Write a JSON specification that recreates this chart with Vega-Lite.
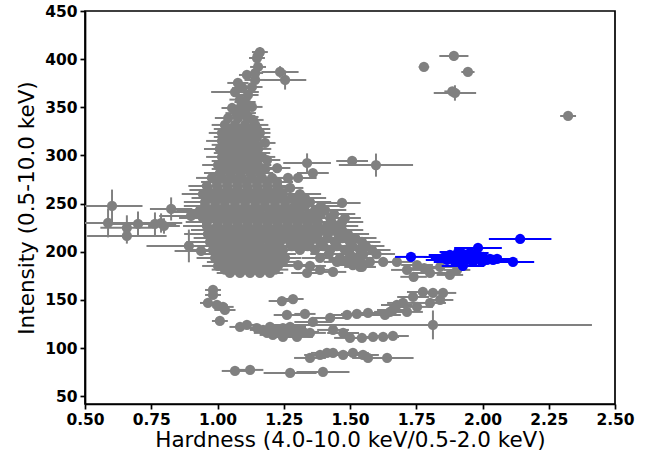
{
"$schema":"https://vega.github.io/schema/vega-lite/v6.json",
"autosize":{"type":"none"},
"padding":{"left":85,"top":11,"right":47,"bottom":50},
"width":530,"height":393,
"background":"white",
"config":{"view":{"stroke":"black","strokeWidth":1.7},
"axis":{"domainColor":"black","domainWidth":1.7,"tickColor":"black","tickWidth":1.7,"tickSize":5,"labelFont":"DejaVu Sans","labelFontWeight":"bold","labelFontSize":15.5,"labelColor":"black","labelFlush":false,"titleFont":"DejaVu Sans","titleFontWeight":"normal","titleFontSize":21.5,"titleColor":"black","grid":false,"labelPadding":3}},
"datasets":{
"gray":[
{"x":1.779,"y":391.9,"xe":0.02,"ye":3},{"x":1.892,"y":403.3,"xe":0.055,"ye":5},{"x":1.945,"y":386.7,"xe":0.025,"ye":3},{"x":1.896,"y":364.9,"xe":0.08,"ye":8},{"x":1.886,"y":366.5,"xe":0.03,"ye":3},{"x":2.323,"y":341.0,"xe":0.03,"ye":3},
{"x":0.602,"y":247.6,"xe":0.115,"ye":17},{"x":0.587,"y":230.0,"xe":0.2,"ye":15},{"x":0.658,"y":224.9,"xe":0.1,"ye":13},{"x":0.658,"y":216.5,"xe":0.15,"ye":8},{"x":0.700,"y":228.9,"xe":0.1,"ye":13},{"x":0.764,"y":228.9,"xe":0.08,"ye":12},{"x":0.787,"y":229.9,"xe":0.08,"ye":10},{"x":0.798,"y":226.8,"xe":0.06,"ye":8},{"x":0.825,"y":244.5,"xe":0.08,"ye":12},{"x":0.900,"y":237.2,"xe":0.12,"ye":5},{"x":0.892,"y":206.1,"xe":0.16,"ye":17},{"x":0.938,"y":200.9,"xe":0.1,"ye":5},{"x":0.964,"y":241.4,"xe":0.15,"ye":5},
{"x":1.160,"y":407.4,"xe":0.03,"ye":5},{"x":1.149,"y":401.2,"xe":0.03,"ye":4},{"x":1.153,"y":404.3,"xe":0.02,"ye":3},{"x":1.236,"y":386.7,"xe":0.07,"ye":6},{"x":1.255,"y":378.4,"xe":0.08,"ye":10},{"x":1.142,"y":385.6,"xe":0.03,"ye":4},{"x":1.153,"y":391.9,"xe":0.03,"ye":4},{"x":1.142,"y":378.4,"xe":0.04,"ye":4},{"x":1.111,"y":383.6,"xe":0.03,"ye":4},{"x":1.130,"y":371.1,"xe":0.04,"ye":4},{"x":1.077,"y":375.3,"xe":0.04,"ye":4},{"x":1.066,"y":365.9,"xe":0.09,"ye":4},{"x":1.115,"y":362.8,"xe":0.04,"ye":4},{"x":1.104,"y":355.5,"xe":0.04,"ye":4},{"x":1.130,"y":350.4,"xe":0.04,"ye":4},{"x":1.055,"y":349.3,"xe":0.04,"ye":4},{"x":1.085,"y":349.3,"xe":0.04,"ye":4},{"x":1.040,"y":338.9,"xe":0.05,"ye":4},{"x":1.077,"y":338.9,"xe":0.04,"ye":4},{"x":1.115,"y":340.0,"xe":0.04,"ye":4},{"x":1.134,"y":336.9,"xe":0.04,"ye":4},
{"x":1.095,"y":370.0,"xe":0.04,"ye":4},{"x":1.085,"y":358.0,"xe":0.04,"ye":4},{"x":1.070,"y":344.0,"xe":0.04,"ye":4},{"x":1.105,"y":344.0,"xe":0.04,"ye":4},
{"x":1.028,"y":331.7,"xe":0.05,"ye":4},{"x":1.066,"y":331.7,"xe":0.05,"ye":4},{"x":1.104,"y":331.7,"xe":0.05,"ye":4},{"x":1.142,"y":331.7,"xe":0.05,"ye":4},
{"x":1.036,"y":327.5,"xe":0.05,"ye":4},{"x":1.074,"y":327.5,"xe":0.05,"ye":4},{"x":1.111,"y":327.5,"xe":0.05,"ye":4},{"x":1.149,"y":327.5,"xe":0.05,"ye":4},
{"x":1.017,"y":323.4,"xe":0.05,"ye":4},{"x":1.055,"y":323.4,"xe":0.05,"ye":4},{"x":1.092,"y":323.4,"xe":0.05,"ye":4},{"x":1.130,"y":323.4,"xe":0.05,"ye":4},{"x":1.160,"y":323.4,"xe":0.04,"ye":4},
{"x":1.036,"y":319.2,"xe":0.05,"ye":4},{"x":1.074,"y":319.2,"xe":0.05,"ye":4},{"x":1.111,"y":319.2,"xe":0.05,"ye":4},{"x":1.149,"y":319.2,"xe":0.05,"ye":4},
{"x":1.017,"y":315.1,"xe":0.06,"ye":4},{"x":1.055,"y":315.1,"xe":0.05,"ye":4},{"x":1.092,"y":315.1,"xe":0.05,"ye":4},{"x":1.130,"y":315.1,"xe":0.05,"ye":4},{"x":1.179,"y":313.0,"xe":0.04,"ye":4},
{"x":1.028,"y":311.0,"xe":0.05,"ye":4},{"x":1.066,"y":311.0,"xe":0.05,"ye":4},{"x":1.104,"y":311.0,"xe":0.05,"ye":4},{"x":1.142,"y":311.0,"xe":0.05,"ye":4},
{"x":1.009,"y":306.8,"xe":0.06,"ye":4},{"x":1.047,"y":306.8,"xe":0.05,"ye":4},{"x":1.085,"y":306.8,"xe":0.05,"ye":4},{"x":1.123,"y":306.8,"xe":0.05,"ye":4},{"x":1.153,"y":306.8,"xe":0.05,"ye":4},
{"x":1.036,"y":302.6,"xe":0.05,"ye":4},{"x":1.074,"y":302.6,"xe":0.05,"ye":4},{"x":1.111,"y":302.6,"xe":0.05,"ye":4},{"x":1.149,"y":302.6,"xe":0.05,"ye":4},
{"x":1.017,"y":298.5,"xe":0.06,"ye":4},{"x":1.055,"y":298.5,"xe":0.05,"ye":4},{"x":1.092,"y":298.5,"xe":0.05,"ye":4},{"x":1.130,"y":298.5,"xe":0.05,"ye":4},{"x":1.168,"y":298.5,"xe":0.05,"ye":4},{"x":1.187,"y":295.3,"xe":0.05,"ye":4},
{"x":1.028,"y":294.3,"xe":0.05,"ye":4},{"x":1.066,"y":294.3,"xe":0.05,"ye":4},{"x":1.104,"y":294.3,"xe":0.05,"ye":4},{"x":1.142,"y":294.3,"xe":0.05,"ye":4},
{"x":1.002,"y":290.1,"xe":0.06,"ye":4},{"x":1.040,"y":290.1,"xe":0.05,"ye":4},{"x":1.077,"y":290.1,"xe":0.05,"ye":4},{"x":1.115,"y":290.1,"xe":0.05,"ye":4},{"x":1.153,"y":290.1,"xe":0.05,"ye":4},{"x":1.225,"y":287.0,"xe":0.05,"ye":4},
{"x":1.028,"y":286.0,"xe":0.05,"ye":4},{"x":1.066,"y":286.0,"xe":0.05,"ye":4},{"x":1.104,"y":286.0,"xe":0.05,"ye":4},{"x":1.142,"y":286.0,"xe":0.05,"ye":4},{"x":1.180,"y":286.0,"xe":0.05,"ye":4},
{"x":1.009,"y":281.8,"xe":0.06,"ye":4},{"x":1.047,"y":281.8,"xe":0.05,"ye":4},{"x":1.085,"y":281.8,"xe":0.05,"ye":4},{"x":1.123,"y":281.8,"xe":0.05,"ye":4},{"x":1.160,"y":281.8,"xe":0.05,"ye":4},
{"x":1.338,"y":292.2,"xe":0.09,"ye":10},{"x":1.360,"y":281.8,"xe":0.06,"ye":4},{"x":1.508,"y":294.3,"xe":0.06,"ye":3},{"x":1.598,"y":290.0,"xe":0.14,"ye":12},{"x":1.274,"y":266.3,"xe":0.05,"ye":10},{"x":1.470,"y":250.7,"xe":0.07,"ye":4},{"x":1.481,"y":235.1,"xe":0.06,"ye":4},
{"x":0.979,"y":276.7,"xe":0.06,"ye":4},{"x":1.017,"y":276.7,"xe":0.06,"ye":4},{"x":1.055,"y":276.7,"xe":0.06,"ye":4},{"x":1.092,"y":276.7,"xe":0.06,"ye":4},{"x":1.130,"y":276.7,"xe":0.06,"ye":4},{"x":1.168,"y":276.7,"xe":0.06,"ye":4},{"x":1.206,"y":276.7,"xe":0.06,"ye":4},{"x":1.266,"y":276.7,"xe":0.07,"ye":4},{"x":1.304,"y":276.7,"xe":0.07,"ye":4},
{"x":0.998,"y":272.5,"xe":0.06,"ye":4},{"x":1.036,"y":272.5,"xe":0.06,"ye":4},{"x":1.074,"y":272.5,"xe":0.06,"ye":4},{"x":1.111,"y":272.5,"xe":0.06,"ye":4},{"x":1.149,"y":272.5,"xe":0.06,"ye":4},{"x":1.187,"y":272.5,"xe":0.06,"ye":4},{"x":1.225,"y":272.5,"xe":0.06,"ye":4},
{"x":0.960,"y":268.4,"xe":0.07,"ye":4},{"x":0.998,"y":268.4,"xe":0.06,"ye":4},{"x":1.036,"y":268.4,"xe":0.06,"ye":4},{"x":1.074,"y":268.4,"xe":0.06,"ye":4},{"x":1.111,"y":268.4,"xe":0.06,"ye":4},{"x":1.149,"y":268.4,"xe":0.06,"ye":4},{"x":1.187,"y":268.4,"xe":0.06,"ye":4},{"x":1.225,"y":268.4,"xe":0.06,"ye":4},
{"x":0.964,"y":264.2,"xe":0.07,"ye":4},{"x":1.002,"y":264.2,"xe":0.06,"ye":4},{"x":1.040,"y":264.2,"xe":0.06,"ye":4},{"x":1.077,"y":264.2,"xe":0.06,"ye":4},{"x":1.115,"y":264.2,"xe":0.06,"ye":4},{"x":1.153,"y":264.2,"xe":0.06,"ye":4},{"x":1.191,"y":264.2,"xe":0.06,"ye":4},{"x":1.228,"y":264.2,"xe":0.06,"ye":4},
{"x":0.945,"y":260.0,"xe":0.08,"ye":4},{"x":0.983,"y":260.0,"xe":0.06,"ye":4},{"x":1.021,"y":260.0,"xe":0.06,"ye":4},{"x":1.058,"y":260.0,"xe":0.06,"ye":4},{"x":1.096,"y":260.0,"xe":0.06,"ye":4},{"x":1.134,"y":260.0,"xe":0.06,"ye":4},{"x":1.172,"y":260.0,"xe":0.06,"ye":4},{"x":1.209,"y":260.0,"xe":0.06,"ye":4},{"x":1.247,"y":260.0,"xe":0.06,"ye":4},{"x":1.311,"y":260.0,"xe":0.08,"ye":4},
{"x":0.972,"y":255.9,"xe":0.07,"ye":4},{"x":1.009,"y":255.9,"xe":0.06,"ye":4},{"x":1.047,"y":255.9,"xe":0.06,"ye":4},{"x":1.085,"y":255.9,"xe":0.06,"ye":4},{"x":1.123,"y":255.9,"xe":0.06,"ye":4},{"x":1.160,"y":255.9,"xe":0.06,"ye":4},{"x":1.198,"y":255.9,"xe":0.06,"ye":4},{"x":1.236,"y":255.9,"xe":0.06,"ye":4},{"x":1.280,"y":255.9,"xe":0.07,"ye":4},{"x":1.330,"y":255.9,"xe":0.08,"ye":4},
{"x":0.953,"y":251.7,"xe":0.08,"ye":4},{"x":0.991,"y":251.7,"xe":0.06,"ye":4},{"x":1.028,"y":251.7,"xe":0.06,"ye":4},{"x":1.066,"y":251.7,"xe":0.06,"ye":4},{"x":1.104,"y":251.7,"xe":0.06,"ye":4},{"x":1.142,"y":251.7,"xe":0.06,"ye":4},{"x":1.179,"y":251.7,"xe":0.06,"ye":4},{"x":1.217,"y":251.7,"xe":0.06,"ye":4},{"x":1.255,"y":251.7,"xe":0.07,"ye":4},{"x":1.304,"y":251.7,"xe":0.08,"ye":4},{"x":1.349,"y":251.7,"xe":0.08,"ye":4},
{"x":0.953,"y":247.5,"xe":0.08,"ye":4},{"x":0.991,"y":247.5,"xe":0.06,"ye":4},{"x":1.028,"y":247.5,"xe":0.06,"ye":4},{"x":1.066,"y":247.5,"xe":0.06,"ye":4},{"x":1.104,"y":247.5,"xe":0.06,"ye":4},{"x":1.142,"y":247.5,"xe":0.06,"ye":4},{"x":1.179,"y":247.5,"xe":0.06,"ye":4},{"x":1.217,"y":247.5,"xe":0.06,"ye":4},{"x":1.255,"y":247.5,"xe":0.07,"ye":4},{"x":1.290,"y":247.5,"xe":0.07,"ye":4},{"x":1.330,"y":247.5,"xe":0.08,"ye":4},{"x":1.390,"y":247.5,"xe":0.08,"ye":4},
{"x":0.934,"y":243.4,"xe":0.09,"ye":4},{"x":0.972,"y":243.4,"xe":0.07,"ye":4},{"x":1.009,"y":243.4,"xe":0.06,"ye":4},{"x":1.047,"y":243.4,"xe":0.06,"ye":4},{"x":1.085,"y":243.4,"xe":0.06,"ye":4},{"x":1.123,"y":243.4,"xe":0.06,"ye":4},{"x":1.160,"y":243.4,"xe":0.06,"ye":4},{"x":1.198,"y":243.4,"xe":0.06,"ye":4},{"x":1.236,"y":243.4,"xe":0.07,"ye":4},{"x":1.274,"y":243.4,"xe":0.07,"ye":4},{"x":1.311,"y":243.4,"xe":0.08,"ye":4},{"x":1.368,"y":243.4,"xe":0.08,"ye":4},{"x":1.406,"y":243.4,"xe":0.08,"ye":4},
{"x":0.964,"y":239.2,"xe":0.08,"ye":4},{"x":1.002,"y":239.2,"xe":0.06,"ye":4},{"x":1.040,"y":239.2,"xe":0.06,"ye":4},{"x":1.077,"y":239.2,"xe":0.06,"ye":4},{"x":1.115,"y":239.2,"xe":0.06,"ye":4},{"x":1.153,"y":239.2,"xe":0.06,"ye":4},{"x":1.191,"y":239.2,"xe":0.06,"ye":4},{"x":1.228,"y":239.2,"xe":0.07,"ye":4},{"x":1.266,"y":239.2,"xe":0.07,"ye":4},{"x":1.304,"y":239.2,"xe":0.08,"ye":4},{"x":1.342,"y":239.2,"xe":0.08,"ye":4},{"x":1.390,"y":239.2,"xe":0.08,"ye":4},{"x":1.440,"y":239.2,"xe":0.08,"ye":4},
{"x":0.945,"y":235.1,"xe":0.09,"ye":4},{"x":0.983,"y":235.1,"xe":0.07,"ye":4},{"x":1.021,"y":235.1,"xe":0.06,"ye":4},{"x":1.058,"y":235.1,"xe":0.06,"ye":4},{"x":1.096,"y":235.1,"xe":0.06,"ye":4},{"x":1.134,"y":235.1,"xe":0.06,"ye":4},{"x":1.172,"y":235.1,"xe":0.06,"ye":4},{"x":1.209,"y":235.1,"xe":0.06,"ye":4},{"x":1.247,"y":235.1,"xe":0.07,"ye":4},{"x":1.285,"y":235.1,"xe":0.07,"ye":4},{"x":1.323,"y":235.1,"xe":0.08,"ye":4},{"x":1.360,"y":235.1,"xe":0.08,"ye":4},{"x":1.425,"y":235.1,"xe":0.08,"ye":4},
{"x":0.960,"y":231.0,"xe":0.08,"ye":4},{"x":1.002,"y":231.0,"xe":0.06,"ye":4},{"x":1.040,"y":231.0,"xe":0.06,"ye":4},{"x":1.077,"y":231.0,"xe":0.06,"ye":4},{"x":1.115,"y":231.0,"xe":0.06,"ye":4},{"x":1.153,"y":231.0,"xe":0.06,"ye":4},{"x":1.191,"y":231.0,"xe":0.06,"ye":4},{"x":1.228,"y":231.0,"xe":0.07,"ye":4},{"x":1.266,"y":231.0,"xe":0.07,"ye":4},{"x":1.304,"y":231.0,"xe":0.08,"ye":4},{"x":1.342,"y":231.0,"xe":0.08,"ye":4},{"x":1.379,"y":231.0,"xe":0.08,"ye":4},{"x":1.430,"y":231.0,"xe":0.08,"ye":4},{"x":1.470,"y":231.0,"xe":0.08,"ye":4},
{"x":0.960,"y":226.8,"xe":0.09,"ye":4},{"x":0.998,"y":226.8,"xe":0.07,"ye":4},{"x":1.036,"y":226.8,"xe":0.06,"ye":4},{"x":1.074,"y":226.8,"xe":0.06,"ye":4},{"x":1.111,"y":226.8,"xe":0.06,"ye":4},{"x":1.149,"y":226.8,"xe":0.06,"ye":4},{"x":1.187,"y":226.8,"xe":0.06,"ye":4},{"x":1.225,"y":226.8,"xe":0.07,"ye":4},{"x":1.262,"y":226.8,"xe":0.07,"ye":4},{"x":1.300,"y":226.8,"xe":0.08,"ye":4},{"x":1.338,"y":226.8,"xe":0.08,"ye":4},{"x":1.375,"y":226.8,"xe":0.08,"ye":4},{"x":1.413,"y":226.8,"xe":0.08,"ye":4},{"x":1.451,"y":226.8,"xe":0.08,"ye":4},
{"x":0.980,"y":222.6,"xe":0.08,"ye":4},{"x":1.017,"y":222.6,"xe":0.06,"ye":4},{"x":1.055,"y":222.6,"xe":0.06,"ye":4},{"x":1.092,"y":222.6,"xe":0.06,"ye":4},{"x":1.130,"y":222.6,"xe":0.06,"ye":4},{"x":1.168,"y":222.6,"xe":0.06,"ye":4},{"x":1.206,"y":222.6,"xe":0.06,"ye":4},{"x":1.243,"y":222.6,"xe":0.07,"ye":4},{"x":1.281,"y":222.6,"xe":0.07,"ye":4},{"x":1.319,"y":222.6,"xe":0.08,"ye":4},{"x":1.357,"y":222.6,"xe":0.08,"ye":4},{"x":1.394,"y":222.6,"xe":0.08,"ye":4},{"x":1.432,"y":222.6,"xe":0.08,"ye":4},{"x":1.470,"y":222.6,"xe":0.08,"ye":4},
{"x":0.964,"y":218.5,"xe":0.09,"ye":4},{"x":1.002,"y":218.5,"xe":0.07,"ye":4},{"x":1.040,"y":218.5,"xe":0.06,"ye":4},{"x":1.077,"y":218.5,"xe":0.06,"ye":4},{"x":1.115,"y":218.5,"xe":0.06,"ye":4},{"x":1.153,"y":218.5,"xe":0.06,"ye":4},{"x":1.191,"y":218.5,"xe":0.06,"ye":4},{"x":1.228,"y":218.5,"xe":0.07,"ye":4},{"x":1.266,"y":218.5,"xe":0.07,"ye":4},{"x":1.304,"y":218.5,"xe":0.08,"ye":4},{"x":1.342,"y":218.5,"xe":0.08,"ye":4},{"x":1.379,"y":218.5,"xe":0.08,"ye":4},{"x":1.417,"y":218.5,"xe":0.08,"ye":4},{"x":1.455,"y":218.5,"xe":0.08,"ye":4},{"x":1.492,"y":218.5,"xe":0.08,"ye":4},
{"x":0.990,"y":214.3,"xe":0.08,"ye":4},{"x":1.028,"y":214.3,"xe":0.06,"ye":4},{"x":1.066,"y":214.3,"xe":0.06,"ye":4},{"x":1.104,"y":214.3,"xe":0.06,"ye":4},{"x":1.142,"y":214.3,"xe":0.06,"ye":4},{"x":1.179,"y":214.3,"xe":0.06,"ye":4},{"x":1.217,"y":214.3,"xe":0.06,"ye":4},{"x":1.255,"y":214.3,"xe":0.07,"ye":4},{"x":1.293,"y":214.3,"xe":0.07,"ye":4},{"x":1.330,"y":214.3,"xe":0.08,"ye":4},{"x":1.368,"y":214.3,"xe":0.08,"ye":4},{"x":1.415,"y":214.3,"xe":0.08,"ye":4},{"x":1.470,"y":214.3,"xe":0.08,"ye":4},{"x":1.520,"y":214.3,"xe":0.08,"ye":4},
{"x":0.972,"y":210.2,"xe":0.09,"ye":4},{"x":1.009,"y":210.2,"xe":0.07,"ye":4},{"x":1.047,"y":210.2,"xe":0.06,"ye":4},{"x":1.085,"y":210.2,"xe":0.06,"ye":4},{"x":1.123,"y":210.2,"xe":0.06,"ye":4},{"x":1.160,"y":210.2,"xe":0.06,"ye":4},{"x":1.198,"y":210.2,"xe":0.06,"ye":4},{"x":1.236,"y":210.2,"xe":0.07,"ye":4},{"x":1.274,"y":210.2,"xe":0.07,"ye":4},{"x":1.311,"y":210.2,"xe":0.08,"ye":4},{"x":1.349,"y":210.2,"xe":0.08,"ye":4},{"x":1.387,"y":210.2,"xe":0.08,"ye":4},{"x":1.443,"y":210.2,"xe":0.08,"ye":4},{"x":1.500,"y":210.2,"xe":0.08,"ye":4},{"x":1.545,"y":210.2,"xe":0.07,"ye":4},
{"x":1.000,"y":206.0,"xe":0.07,"ye":4},{"x":1.040,"y":206.0,"xe":0.06,"ye":4},{"x":1.077,"y":206.0,"xe":0.06,"ye":4},{"x":1.115,"y":206.0,"xe":0.06,"ye":4},{"x":1.153,"y":206.0,"xe":0.06,"ye":4},{"x":1.191,"y":206.0,"xe":0.06,"ye":4},{"x":1.228,"y":206.0,"xe":0.07,"ye":4},{"x":1.280,"y":206.0,"xe":0.07,"ye":4},{"x":1.340,"y":206.0,"xe":0.08,"ye":4},{"x":1.400,"y":206.0,"xe":0.08,"ye":4},{"x":1.450,"y":206.0,"xe":0.08,"ye":4},{"x":1.510,"y":206.0,"xe":0.08,"ye":4},{"x":1.560,"y":206.0,"xe":0.07,"ye":4},
{"x":0.983,"y":201.9,"xe":0.08,"ye":4},{"x":1.021,"y":201.9,"xe":0.06,"ye":4},{"x":1.058,"y":201.9,"xe":0.06,"ye":4},{"x":1.096,"y":201.9,"xe":0.06,"ye":4},{"x":1.134,"y":201.9,"xe":0.06,"ye":4},{"x":1.172,"y":201.9,"xe":0.06,"ye":4},{"x":1.209,"y":201.9,"xe":0.06,"ye":4},{"x":1.247,"y":201.9,"xe":0.07,"ye":4},{"x":1.311,"y":201.9,"xe":0.08,"ye":4},{"x":1.368,"y":201.9,"xe":0.08,"ye":4},{"x":1.425,"y":201.9,"xe":0.08,"ye":4},{"x":1.481,"y":201.9,"xe":0.08,"ye":4},{"x":1.538,"y":201.9,"xe":0.07,"ye":4},{"x":1.583,"y":201.9,"xe":0.07,"ye":4},
{"x":1.009,"y":197.7,"xe":0.06,"ye":4},{"x":1.047,"y":197.7,"xe":0.06,"ye":4},{"x":1.085,"y":197.7,"xe":0.06,"ye":4},{"x":1.123,"y":197.7,"xe":0.06,"ye":4},{"x":1.160,"y":197.7,"xe":0.06,"ye":4},{"x":1.198,"y":197.7,"xe":0.06,"ye":4},{"x":1.236,"y":197.7,"xe":0.06,"ye":4},{"x":1.420,"y":197.7,"xe":0.07,"ye":4},{"x":1.500,"y":197.7,"xe":0.07,"ye":4},{"x":1.550,"y":197.7,"xe":0.07,"ye":4},{"x":1.600,"y":197.7,"xe":0.07,"ye":4},
{"x":0.991,"y":193.6,"xe":0.07,"ye":4},{"x":1.028,"y":193.6,"xe":0.06,"ye":4},{"x":1.066,"y":193.6,"xe":0.06,"ye":4},{"x":1.104,"y":193.6,"xe":0.06,"ye":4},{"x":1.142,"y":193.6,"xe":0.06,"ye":4},{"x":1.179,"y":193.6,"xe":0.06,"ye":4},{"x":1.217,"y":193.6,"xe":0.06,"ye":4},{"x":1.255,"y":193.6,"xe":0.06,"ye":4},{"x":1.387,"y":193.6,"xe":0.07,"ye":4},{"x":1.462,"y":193.6,"xe":0.07,"ye":4},{"x":1.519,"y":193.6,"xe":0.07,"ye":4},{"x":1.489,"y":191.5,"xe":0.07,"ye":4},
{"x":1.020,"y":189.5,"xe":0.06,"ye":4},{"x":1.058,"y":189.5,"xe":0.06,"ye":4},{"x":1.096,"y":189.5,"xe":0.06,"ye":4},{"x":1.134,"y":189.5,"xe":0.06,"ye":4},{"x":1.172,"y":189.5,"xe":0.06,"ye":4},{"x":1.209,"y":189.5,"xe":0.06,"ye":4},{"x":1.247,"y":189.5,"xe":0.06,"ye":4},
{"x":1.002,"y":185.3,"xe":0.06,"ye":4},{"x":1.040,"y":185.3,"xe":0.06,"ye":4},{"x":1.077,"y":185.3,"xe":0.06,"ye":4},{"x":1.115,"y":185.3,"xe":0.06,"ye":4},{"x":1.153,"y":185.3,"xe":0.06,"ye":4},{"x":1.191,"y":185.3,"xe":0.06,"ye":4},{"x":1.228,"y":185.3,"xe":0.06,"ye":4},{"x":1.349,"y":185.3,"xe":0.06,"ye":4},
{"x":1.028,"y":181.5,"xe":0.05,"ye":4},{"x":1.066,"y":181.5,"xe":0.05,"ye":4},{"x":1.104,"y":181.5,"xe":0.05,"ye":4},{"x":1.142,"y":181.5,"xe":0.05,"ye":4},{"x":1.179,"y":181.5,"xe":0.05,"ye":4},{"x":1.217,"y":181.5,"xe":0.05,"ye":4},
{"x":1.047,"y":178.0,"xe":0.05,"ye":4},{"x":1.085,"y":178.0,"xe":0.05,"ye":4},{"x":1.123,"y":178.0,"xe":0.05,"ye":4},{"x":1.160,"y":178.0,"xe":0.05,"ye":4},{"x":1.198,"y":178.0,"xe":0.05,"ye":4},
{"x":1.538,"y":184.3,"xe":0.06,"ye":4},{"x":1.338,"y":178.0,"xe":0.06,"ye":4},{"x":1.304,"y":186.3,"xe":0.05,"ye":4},{"x":1.387,"y":181.2,"xe":0.05,"ye":4},{"x":1.436,"y":179.1,"xe":0.05,"ye":4},{"x":1.511,"y":186.3,"xe":0.06,"ye":4},{"x":1.451,"y":189.5,"xe":0.05,"ye":4},{"x":1.500,"y":188.4,"xe":0.06,"ye":4},{"x":1.545,"y":184.3,"xe":0.05,"ye":4},{"x":1.575,"y":189.5,"xe":0.05,"ye":4},{"x":1.625,"y":189.5,"xe":0.06,"ye":4},
{"x":1.715,"y":181.2,"xe":0.06,"ye":4},{"x":1.753,"y":186.3,"xe":0.06,"ye":4},{"x":1.802,"y":178.0,"xe":0.06,"ye":4},{"x":1.840,"y":184.3,"xe":0.05,"ye":4},{"x":1.877,"y":176.0,"xe":0.05,"ye":4},{"x":1.904,"y":181.2,"xe":0.05,"ye":4},{"x":1.677,"y":189.5,"xe":0.06,"ye":4},{"x":1.740,"y":174.0,"xe":0.05,"ye":4},{"x":1.780,"y":183.0,"xe":0.05,"ye":4},
{"x":0.983,"y":160.4,"xe":0.03,"ye":3},{"x":0.983,"y":155.2,"xe":0.03,"ye":3},{"x":0.964,"y":146.9,"xe":0.03,"ye":3},{"x":0.998,"y":144.8,"xe":0.04,"ye":3},{"x":1.021,"y":142.8,"xe":0.04,"ye":3},{"x":1.028,"y":139.6,"xe":0.04,"ye":3},{"x":1.009,"y":128.2,"xe":0.03,"ye":3},
{"x":1.243,"y":148.9,"xe":0.05,"ye":3},{"x":1.285,"y":151.0,"xe":0.04,"ye":3},{"x":1.262,"y":134.4,"xe":0.05,"ye":3},{"x":1.330,"y":135.5,"xe":0.04,"ye":3},{"x":1.085,"y":122.0,"xe":0.04,"ye":3},{"x":1.111,"y":124.1,"xe":0.04,"ye":3},
{"x":1.149,"y":120.9,"xe":0.05,"ye":3},{"x":1.172,"y":118.9,"xe":0.05,"ye":3},{"x":1.198,"y":122.0,"xe":0.05,"ye":3},{"x":1.225,"y":116.8,"xe":0.05,"ye":3},{"x":1.247,"y":120.9,"xe":0.05,"ye":3},{"x":1.274,"y":115.8,"xe":0.06,"ye":3},{"x":1.300,"y":118.9,"xe":0.06,"ye":3},{"x":1.323,"y":116.8,"xe":0.06,"ye":3},{"x":1.349,"y":115.8,"xe":0.06,"ye":3},{"x":1.247,"y":111.6,"xe":0.05,"ye":3},{"x":1.209,"y":113.7,"xe":0.05,"ye":3},{"x":1.187,"y":115.8,"xe":0.05,"ye":3},{"x":1.274,"y":122.0,"xe":0.06,"ye":3},{"x":1.300,"y":111.6,"xe":0.06,"ye":3},
{"x":1.360,"y":127.2,"xe":0.07,"ye":3},{"x":1.425,"y":131.4,"xe":0.07,"ye":3},{"x":1.489,"y":134.4,"xe":0.07,"ye":3},{"x":1.526,"y":135.5,"xe":0.06,"ye":3},{"x":1.568,"y":136.5,"xe":0.06,"ye":3},{"x":1.651,"y":137.6,"xe":0.06,"ye":3},
{"x":1.436,"y":118.9,"xe":0.06,"ye":3},{"x":1.474,"y":115.8,"xe":0.06,"ye":3},{"x":1.500,"y":110.6,"xe":0.06,"ye":3},{"x":1.545,"y":110.6,"xe":0.06,"ye":3},{"x":1.587,"y":111.6,"xe":0.06,"ye":3},{"x":1.625,"y":111.6,"xe":0.06,"ye":3},{"x":1.662,"y":112.6,"xe":0.06,"ye":3},
{"x":1.813,"y":124.1,"xe":0.6,"ye":15},
{"x":1.349,"y":89.8,"xe":0.06,"ye":3},{"x":1.387,"y":92.9,"xe":0.06,"ye":3},{"x":1.413,"y":95.0,"xe":0.06,"ye":3},{"x":1.436,"y":95.0,"xe":0.06,"ye":3},{"x":1.474,"y":92.9,"xe":0.06,"ye":3},{"x":1.511,"y":95.0,"xe":0.06,"ye":3},{"x":1.549,"y":92.9,"xe":0.06,"ye":3},{"x":1.568,"y":89.8,"xe":0.06,"ye":3},{"x":1.640,"y":89.8,"xe":0.1,"ye":3},
{"x":1.066,"y":76.3,"xe":0.05,"ye":3},{"x":1.123,"y":77.4,"xe":0.05,"ye":3},{"x":1.274,"y":74.2,"xe":0.1,"ye":3},{"x":1.398,"y":75.3,"xe":0.1,"ye":3},
{"x":1.662,"y":139.6,"xe":0.06,"ye":3},{"x":1.700,"y":146.9,"xe":0.06,"ye":3},{"x":1.738,"y":153.1,"xe":0.06,"ye":3},{"x":1.775,"y":158.3,"xe":0.06,"ye":3},{"x":1.813,"y":157.3,"xe":0.05,"ye":3},{"x":1.851,"y":157.3,"xe":0.05,"ye":3},{"x":1.753,"y":142.8,"xe":0.06,"ye":3},{"x":1.802,"y":146.9,"xe":0.06,"ye":3},{"x":1.840,"y":150.0,"xe":0.05,"ye":3},{"x":1.715,"y":137.6,"xe":0.06,"ye":3},{"x":1.677,"y":144.8,"xe":0.06,"ye":3},{"x":1.632,"y":134.4,"xe":0.06,"ye":3}
],
"blue":[
{"x":2.142,"y":213.3,"xe":0.118,"ye":4},{"x":1.730,"y":194.7,"xe":0.06,"ye":3},{"x":1.983,"y":204.0,"xe":0.09,"ye":3},{"x":2.115,"y":189.5,"xe":0.08,"ye":3},{"x":1.926,"y":185.3,"xe":0.08,"ye":3},
{"x":1.858,"y":194.7,"xe":0.08,"ye":3},{"x":1.877,"y":196.7,"xe":0.08,"ye":3},{"x":1.908,"y":199.8,"xe":0.07,"ye":3},{"x":1.926,"y":197.8,"xe":0.07,"ye":3},{"x":1.953,"y":198.8,"xe":0.07,"ye":3},{"x":1.979,"y":195.7,"xe":0.07,"ye":3},{"x":2.002,"y":194.7,"xe":0.07,"ye":3},{"x":2.028,"y":192.6,"xe":0.07,"ye":3},{"x":2.055,"y":192.6,"xe":0.07,"ye":3},
{"x":1.866,"y":191.5,"xe":0.08,"ye":3},{"x":1.896,"y":189.5,"xe":0.08,"ye":3},{"x":1.942,"y":191.5,"xe":0.07,"ye":3},{"x":1.964,"y":189.5,"xe":0.07,"ye":3},{"x":1.998,"y":189.5,"xe":0.07,"ye":3},{"x":2.017,"y":191.5,"xe":0.07,"ye":3},{"x":2.040,"y":191.5,"xe":0.07,"ye":3},{"x":1.885,"y":193.6,"xe":0.08,"ye":3},{"x":1.923,"y":193.6,"xe":0.07,"ye":3},{"x":1.953,"y":193.6,"xe":0.07,"ye":3}
]},
"encoding":{
"x":{"field":"x","type":"quantitative","scale":{"domain":[0.5,2.5],"nice":false,"zero":false},"axis":{"values":[0.5,0.75,1.0,1.25,1.5,1.75,2.0,2.25,2.5],"format":".2f","title":"Hardness (4.0-10.0 keV/0.5-2.0 keV)","titlePadding":2}},
"y":{"field":"y","type":"quantitative","scale":{"domain":[42,450],"nice":false,"zero":false},"axis":{"values":[50,100,150,200,250,300,350,400,450],"title":"Intensity (0.5-10.0 keV)","titlePadding":6}}
},
"layer":[
{"data":{"name":"gray"},"mark":{"type":"errorbar","color":"#808080","thickness":2,"clip":true},"encoding":{"xError":{"field":"xe"}}},
{"data":{"name":"gray"},"mark":{"type":"errorbar","color":"#808080","thickness":2,"clip":true},"encoding":{"yError":{"field":"ye"}}},
{"data":{"name":"gray"},"mark":{"type":"circle","color":"#808080","opacity":1,"size":105,"clip":true},"encoding":{}},
{"data":{"name":"blue"},"mark":{"type":"errorbar","color":"#0000ff","thickness":2,"clip":true},"encoding":{"xError":{"field":"xe"}}},
{"data":{"name":"blue"},"mark":{"type":"errorbar","color":"#0000ff","thickness":2,"clip":true},"encoding":{"yError":{"field":"ye"}}},
{"data":{"name":"blue"},"mark":{"type":"circle","color":"#0000ff","opacity":1,"size":105,"clip":true},"encoding":{}}
]
}
